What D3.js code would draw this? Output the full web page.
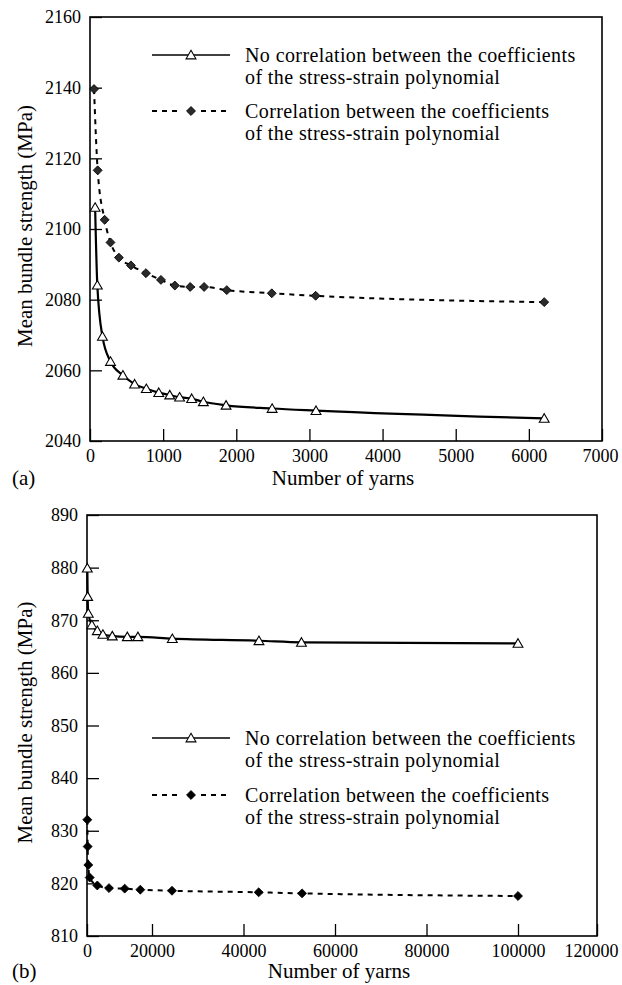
<!DOCTYPE html>
<html>
<head>
<meta charset="utf-8">
<script src="https://cdn.jsdelivr.net/npm/d3@7"></script>
<style>
  body { margin: 0; background: #fff; }
  svg { display: block; font-family: "Liberation Serif", "Times New Roman", serif; }
</style>
</head>
<body>
<svg id="chart" width="622" height="985"></svg>
<script>
// panel (a): up to ~6000 yarns
const yarnsA_noCorr = [70, 100, 170, 280, 450, 610, 770, 940, 1090, 1225, 1390, 1550, 1860, 2490, 3090, 6210];
const strengthA_noCorr = [2106.1, 2084.1, 2069.6, 2062.5, 2058.6, 2056.1, 2054.8, 2053.7, 2053.0, 2052.4, 2052.0, 2051.1, 2050.1, 2049.2, 2048.6, 2046.4];
const yarnsA_corr = [55, 105, 200, 280, 395, 560, 765, 970, 1160, 1370, 1560, 1870, 2485, 3085, 6210];
const strengthA_corr = [2139.6, 2116.6, 2102.6, 2096.2, 2091.9, 2089.7, 2087.5, 2085.6, 2084.0, 2083.6, 2083.6, 2082.7, 2081.8, 2081.1, 2079.3];
const xTicksA = [0, 1000, 2000, 3000, 4000, 5000, 6000, 7000];
const yTicksA = [2040, 2060, 2080, 2100, 2120, 2140, 2160];

// panel (b): up to 100000 yarns
const yarnsB_noCorr = [100, 200, 400, 1500, 3170, 4890, 7780, 12400, 15660, 24440, 43380, 52670, 100000];
const strengthB_noCorr = [879.9, 874.5, 871.3, 869.1, 868.0, 867.3, 867.0, 866.85, 866.85, 866.5, 866.1, 865.8, 865.6];
const yarnsB_corr = [100, 200, 400, 830, 3170, 6770, 11600, 16400, 24370, 43320, 52800, 100000];
const strengthB_corr = [832.1, 827.0, 823.5, 821.1, 819.6, 819.1, 819.0, 818.8, 818.6, 818.3, 818.1, 817.6];
const xTicksB = [0, 20000, 40000, 60000, 80000, 100000, 120000];
const yTicksB = [810, 820, 830, 840, 850, 860, 870, 880, 890];

const legendLabels = [
  ["No correlation between the coefficients", "of the stress-strain polynomial"],
  ["Correlation between the coefficients", "of the stress-strain polynomial"]
];

const svg = d3.select("#chart");

const triangle = d3.symbol(d3.symbolTriangle, 42);
const diamond = d3.symbol(d3.symbolSquare, 40);

let styleAxis = a => {
  a.attr("font-family", null).attr("font-size", null);
  a.select(".domain").remove();
  a.selectAll("line").attr("stroke-width", 1.3);
  a.selectAll("text").attr("font-size", 18).attr("fill", "#000");
};

let drawPanel = p => {
  const g = svg.append("g");

  // axes with inward ticks
  g.append("g")
    .attr("transform", `translate(0,${p.bottom})`)
    .call(d3.axisBottom(p.x).tickValues(p.xTicks).tickFormat(d3.format("d"))
      .tickSizeInner(-12).tickSizeOuter(0).tickPadding(8))
    .call(styleAxis)
    .call(a => a.selectAll("text").filter(d => d === p.xTicks[p.xTicks.length - 1]).attr("dx", p.lastTickShift));

  g.append("g")
    .attr("transform", `translate(${p.left},0)`)
    .call(d3.axisLeft(p.y).tickValues(p.yTicks).tickFormat(d3.format("d"))
      .tickSizeInner(-12).tickSizeOuter(0).tickPadding(9))
    .call(styleAxis);

  // frame
  g.append("rect")
    .attr("x", p.left).attr("y", p.top)
    .attr("width", p.right - p.left).attr("height", p.bottom - p.top)
    .attr("fill", "none").attr("stroke", "#000").attr("stroke-width", 1.6);

  const line = d3.line()
    .x(d => p.x(d[0]))
    .y(d => p.y(d[1]))
    .curve(d3.curveMonotoneX);

  const noCorr = p.noCorrN.map((n, i) => [n, p.noCorrS[i]]);
  const corr = p.corrN.map((n, i) => [n, p.corrS[i]]);

  g.append("path")
    .attr("d", line(corr))
    .attr("fill", "none").attr("stroke", "#000")
    .attr("stroke-width", 2).attr("stroke-dasharray", "5,5");

  g.append("path")
    .attr("d", line(noCorr))
    .attr("fill", "none").attr("stroke", "#000")
    .attr("stroke-width", 2.2);

  g.append("g").selectAll("path")
    .data(corr)
    .join("path")
      .attr("d", diamond)
      .attr("transform", d => `translate(${p.x(d[0])},${p.y(d[1])}) rotate(45)`)
      .attr("fill", p.diamondFill).attr("stroke", "#000").attr("stroke-width", 0.8);

  g.append("g").selectAll("path")
    .data(noCorr)
    .join("path")
      .attr("d", triangle)
      .attr("transform", d => `translate(${p.x(d[0])},${p.y(d[1]) + 1})`)
      .attr("fill", "#fff").attr("stroke", "#000").attr("stroke-width", 1.1);

  // legend
  const lg = g.append("g");
  lg.append("line")
    .attr("x1", 152).attr("x2", 230).attr("y1", p.legendY[0]).attr("y2", p.legendY[0])
    .attr("stroke", "#000").attr("stroke-width", 1.6);
  lg.append("path").attr("d", triangle)
    .attr("transform", `translate(191,${p.legendY[0] + 1})`)
    .attr("fill", "#fff").attr("stroke", "#000").attr("stroke-width", 1.1);
  [[152, 181], [201, 230]].forEach(s => {
    lg.append("line")
      .attr("x1", s[0]).attr("x2", s[1]).attr("y1", p.legendY[1]).attr("y2", p.legendY[1])
      .attr("stroke", "#000").attr("stroke-width", 2).attr("stroke-dasharray", "5,5");
  });
  lg.append("path").attr("d", diamond)
    .attr("transform", `translate(191,${p.legendY[1]}) rotate(45)`)
    .attr("fill", p.diamondFill).attr("stroke", "#000").attr("stroke-width", 0.8);

  legendLabels.forEach((lines, i) => {
    lines.forEach((t, j) => {
      lg.append("text")
        .attr("x", 245).attr("y", p.legendY[i] + 7 + j * 22.3)
        .attr("font-size", 20)
        .attr("letter-spacing", 0.4)
        .text(t);
    });
  });

  // axis titles and panel label
  g.append("text")
    .attr("x", (p.left + p.right) / 2 - 3).attr("y", p.titleY)
    .attr("text-anchor", "middle").attr("font-size", 21)
    .text("Number of yarns");

  g.append("text")
    .attr("transform", `translate(32,${(p.top + p.bottom) / 2 - 3}) rotate(-90)`)
    .attr("text-anchor", "middle").attr("font-size", 21)
    .text("Mean bundle strength (MPa)");

  g.append("text")
    .attr("x", 12).attr("y", p.labelY)
    .attr("font-size", 21)
    .text(p.label);
};

const panelA = {
  left: 90, right: 602, top: 17, bottom: 441,
  xTicks: xTicksA, yTicks: yTicksA, lastTickShift: -2,
  noCorrN: yarnsA_noCorr, noCorrS: strengthA_noCorr,
  corrN: yarnsA_corr, corrS: strengthA_corr,
  diamondFill: "#2a2a2a",
  legendY: [55, 111], titleY: 485, labelY: 485, label: "(a)"
};
panelA.x = d3.scaleLinear().domain([0, 7000]).range([panelA.left, panelA.right]);
panelA.y = d3.scaleLinear().domain([2040, 2160]).range([panelA.bottom, panelA.top]);

const panelB = {
  left: 87, right: 597, top: 515, bottom: 936,
  xTicks: xTicksB, yTicks: yTicksB, lastTickShift: -6,
  noCorrN: yarnsB_noCorr, noCorrS: strengthB_noCorr,
  corrN: yarnsB_corr, corrS: strengthB_corr,
  diamondFill: "#000",
  legendY: [738, 795], titleY: 978, labelY: 978, label: "(b)"
};
// tick spacing in the figure is uneven near the origin
panelB.x = d3.scaleLinear().domain([0, 20000, 100000, 120000]).range([87, 152, 518, 597]);
panelB.y = d3.scaleLinear().domain([810, 890]).range([panelB.bottom, panelB.top]);

drawPanel(panelA);
drawPanel(panelB);
</script>
</body>
</html>
